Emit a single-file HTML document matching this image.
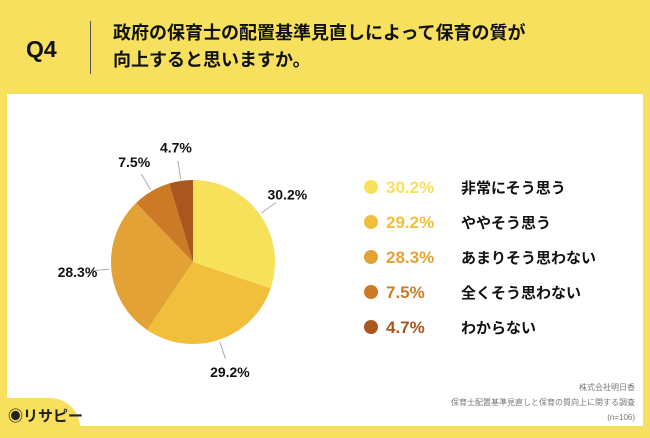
<!DOCTYPE html>
<html><head><meta charset="utf-8"><style>
body{margin:0;width:650px;height:434px;background:#f6e05e;position:relative;overflow:hidden;font-family:"Liberation Sans","Noto Sans CJK JP",sans-serif}
.abs{position:absolute}
</style></head><body>
<div class="abs" style="left:26px;top:36px;font-size:23px;font-weight:bold;color:#111">Q4</div>
<div class="abs" style="left:90px;top:21px;width:1px;height:53px;background:#555"></div>
<div class="abs" style="left:113px;top:20px;font-size:18px;font-weight:bold;line-height:27px;color:#111">政府の保育士の配置基準見直しによって保育の質が<br>向上すると思いますか。</div>
<div class="abs" style="left:7px;top:94px;width:636px;height:332px;background:#fff"></div>
<div class="abs" style="left:0;top:398px;width:80px;height:40px;background:#f6e05e;border-top-right-radius:30px"></div>
<div class="abs" style="left:8px;top:405px;font-size:15px;font-weight:bold;color:#222">◉リサピー</div>
<div class="abs" style="right:15px;top:380px;font-size:8px;line-height:15px;color:#777;text-align:right;width:300px">株式会社明日香<br>保育士配置基準見直しと保育の質向上に関する調査<br>(n=106)</div>
<svg class="abs" style="left:0;top:0" width="650" height="434" id="chart"></svg>
<script>
const categories=["非常にそう思う","ややそう思う","あまりそう思わない","全くそう思わない","わからない"];
const values=[30.2,29.2,28.3,7.5,4.7];
const colors=["#f7e05a","#f2bf3c","#e3a236","#cd7a26","#a9561f"];
const NS="http://www.w3.org/2000/svg";
const svg=document.getElementById('chart');
const cx=193,cy=262,r=82;
const total=values.reduce((a,b)=>a+b,0);
function pt(a,rad){return [cx+rad*Math.sin(a),cy-rad*Math.cos(a)];}
let a0=0;
values.forEach((v,i)=>{
  const a1=a0+v/total*2*Math.PI;
  const p0=pt(a0,r),p1=pt(a1,r);
  const path=document.createElementNS(NS,'path');
  path.setAttribute('d',`M${cx},${cy}L${p0[0]},${p0[1]}A${r},${r} 0 ${a1-a0>Math.PI?1:0} 1 ${p1[0]},${p1[1]}Z`);
  path.setAttribute('fill',colors[i]);
  
  
  svg.appendChild(path);
  const am=(a0+a1)/2;
  const l0=pt(am,r+2),l1=pt(am,r+20);
  const ln=document.createElementNS(NS,'line');
  ln.setAttribute('x1',l0[0]);ln.setAttribute('y1',l0[1]);ln.setAttribute('x2',l1[0]);ln.setAttribute('y2',l1[1]);
  ln.setAttribute('stroke','#aaa');ln.setAttribute('stroke-width','1');
  
  
  svg.appendChild(ln);
  const lp=pt(am,r+34);
  const t=document.createElementNS(NS,'text');
  t.setAttribute('x',lp[0]);t.setAttribute('y',lp[1]+5);t.setAttribute('text-anchor','middle');
  t.setAttribute('font-size','14');t.setAttribute('font-weight','bold');t.setAttribute('fill','#111');
  t.textContent=v.toFixed(1)+'%';
  
  
  svg.appendChild(t);
  const y=187+i*35;
  const c=document.createElementNS(NS,'circle');
  c.setAttribute('cx',371);c.setAttribute('cy',y);c.setAttribute('r',7);c.setAttribute('fill',colors[i]);
  
  
  svg.appendChild(c);
  const tp=document.createElementNS(NS,'text');
  tp.setAttribute('x',386);tp.setAttribute('y',y+6);tp.setAttribute('font-size','17');tp.setAttribute('font-weight','bold');tp.setAttribute('fill',colors[i]);
  tp.textContent=v.toFixed(1)+'%';
  
  
  svg.appendChild(tp);
  const tl=document.createElementNS(NS,'text');
  tl.setAttribute('x',461);tl.setAttribute('y',y+6);tl.setAttribute('font-size','15');tl.setAttribute('font-weight','bold');tl.setAttribute('fill','#111');
  tl.textContent=categories[i];
  
  
  svg.appendChild(tl);
  a0=a1;
});
</script>
</body></html>
